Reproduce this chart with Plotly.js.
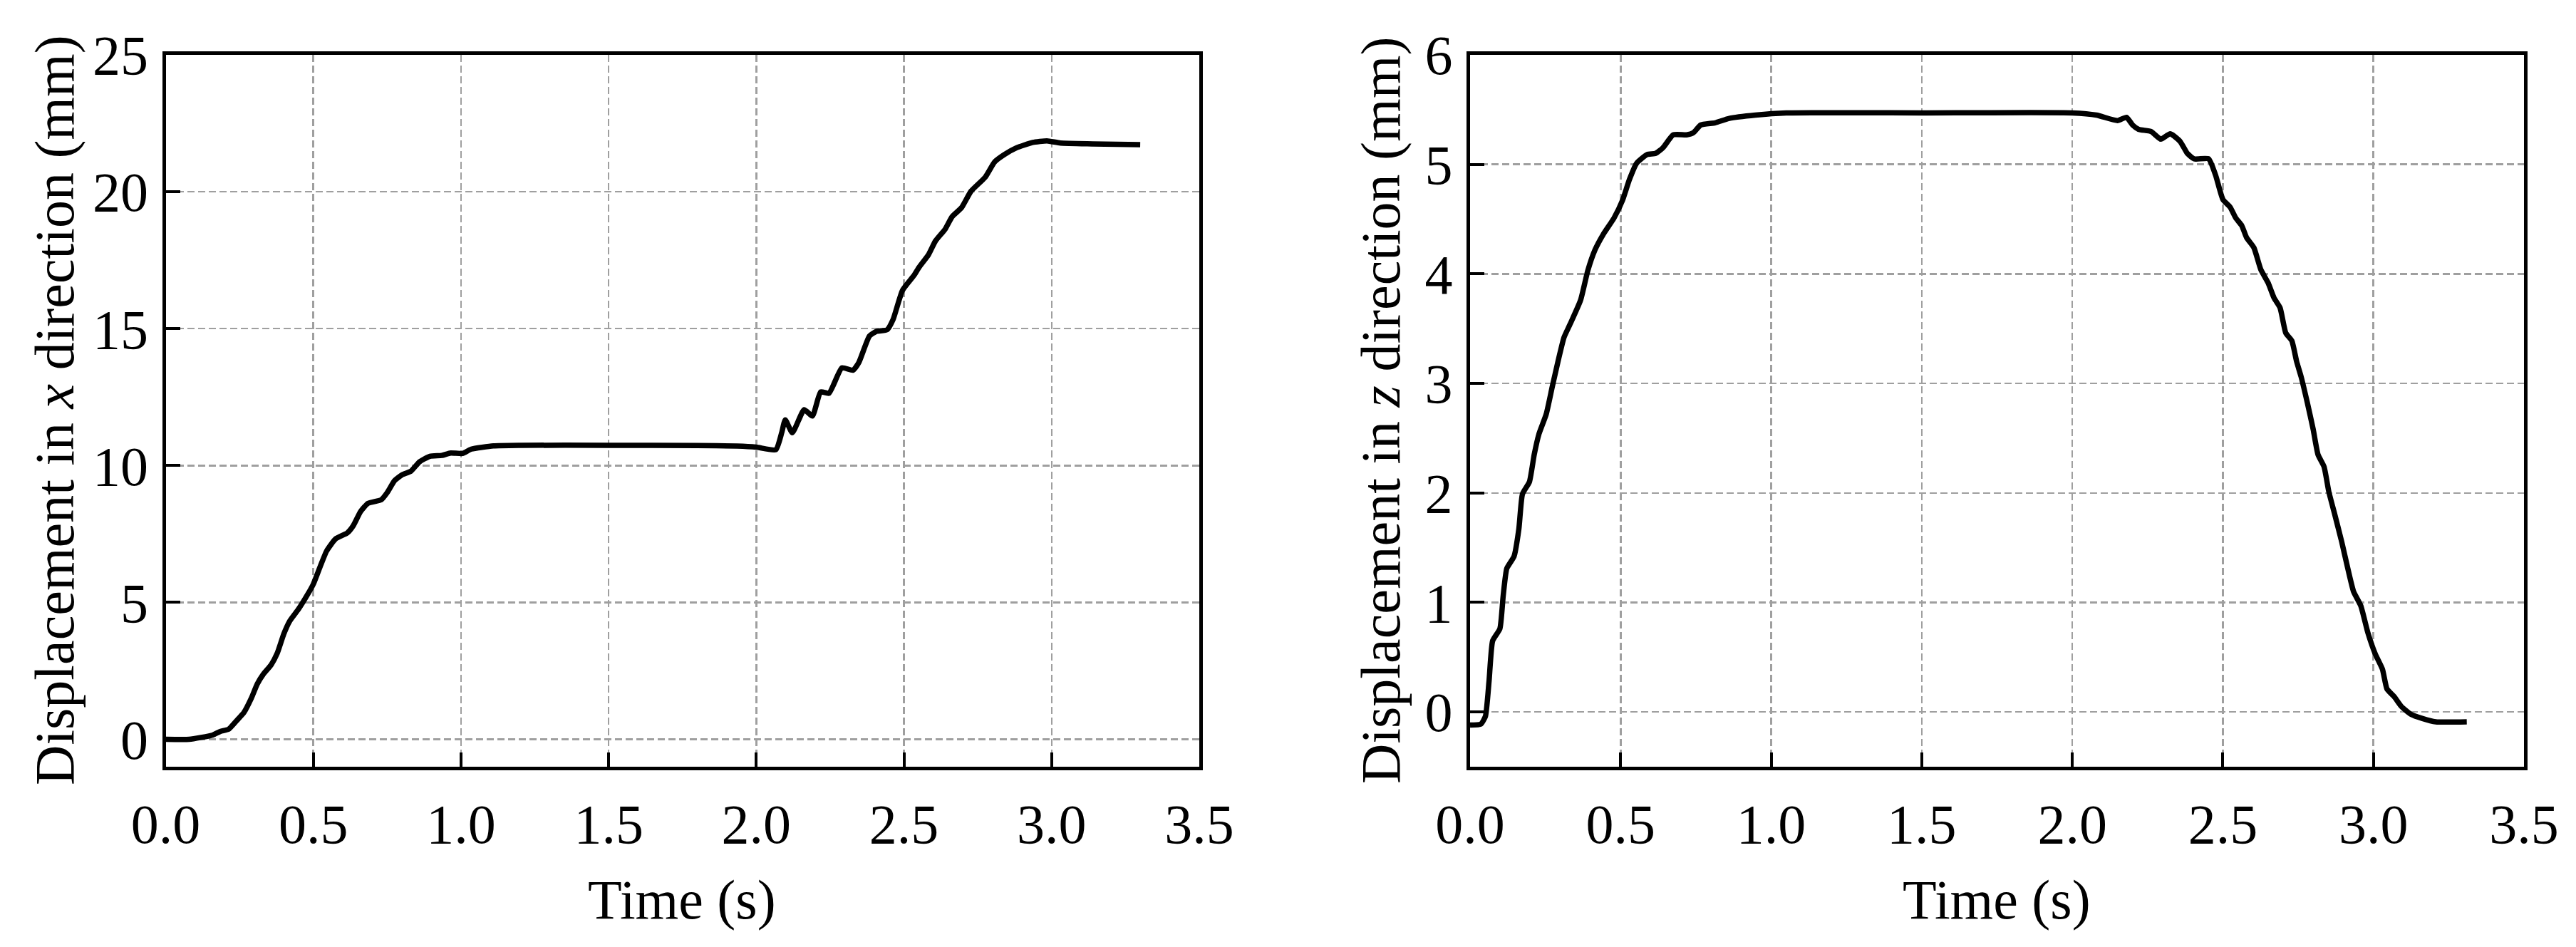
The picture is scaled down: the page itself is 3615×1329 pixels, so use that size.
<!DOCTYPE html>
<html>
<head>
<meta charset="utf-8">
<script src="https://cdn.plot.ly/plotly-3.0.1.min.js"></script>
<style>html,body{margin:0;padding:0;background:#fff;}#chart{width:3615px;height:1329px;}</style>
</head>
<body>
<div id="chart"></div>
<script>
// Left panel: displacement in x direction
const timeX = [0,0.08,0.12,0.16,0.185,0.213,0.24,0.265,0.29,0.31,0.33,0.357,0.378,0.40,0.42,0.45,0.48,0.50,0.525,0.545,0.575,0.615,0.635,0.66,0.685,0.73,0.75,0.775,0.80,0.83,0.86,0.895,0.935,0.965,1.005,1.035,1.11,1.2,1.5,1.8,1.935,2.0,2.066,2.086,2.098,2.122,2.162,2.19,2.218,2.246,2.29,2.327,2.347,2.383,2.407,2.443,2.463,2.495,2.535,2.551,2.583,2.607,2.639,2.663,2.695,2.727,2.775,2.807,2.84,2.88,2.936,2.984,3.03,3.14,3.30];
const dispX = [0,0.0,0.07,0.16,0.29,0.37,0.68,0.98,1.5,2.02,2.37,2.72,3.15,3.85,4.32,4.76,5.28,5.67,6.36,6.88,7.32,7.54,7.8,8.32,8.62,8.75,9.01,9.45,9.66,9.79,10.14,10.34,10.37,10.46,10.44,10.6,10.72,10.74,10.74,10.73,10.71,10.67,10.58,11.2,11.67,11.2,12.04,11.81,12.69,12.64,13.57,13.48,13.76,14.73,14.9,14.96,15.33,16.4,16.96,17.24,17.7,18.21,18.63,19.09,19.42,20.02,20.53,21.09,21.36,21.6,21.8,21.86,21.78,21.75,21.72];

// Right panel: displacement in z direction
const timeZ = [0,0.036,0.051,0.063,0.075,0.099,0.11,0.122,0.146,0.162,0.174,0.197,0.213,0.229,0.253,0.273,0.292,0.312,0.332,0.367,0.391,0.415,0.442,0.478,0.506,0.529,0.553,0.588,0.616,0.64,0.675,0.719,0.742,0.766,0.814,0.861,0.948,1.05,1.5,2.0,2.08,2.15,2.18,2.2,2.22,2.262,2.294,2.325,2.358,2.382,2.405,2.453,2.476,2.5,2.524,2.543,2.563,2.579,2.603,2.626,2.65,2.67,2.69,2.709,2.729,2.745,2.76,2.78,2.8,2.816,2.836,2.852,2.871,2.895,2.915,2.934,2.958,2.982,3.006,3.03,3.045,3.069,3.093,3.124,3.163,3.207,3.31];
const dispZ = [-0.12,-0.11,-0.04,0.28,0.65,0.76,1.06,1.31,1.42,1.67,1.99,2.1,2.35,2.54,2.72,2.97,3.2,3.42,3.54,3.76,4.03,4.22,4.36,4.51,4.67,4.86,5.01,5.09,5.1,5.15,5.27,5.27,5.29,5.36,5.38,5.42,5.45,5.47,5.47,5.47,5.45,5.40,5.43,5.36,5.32,5.30,5.23,5.28,5.21,5.10,5.05,5.05,4.9,4.68,4.61,4.51,4.44,4.33,4.24,4.04,3.92,3.78,3.69,3.46,3.39,3.20,3.06,2.83,2.58,2.35,2.24,2.01,1.81,1.55,1.31,1.10,0.97,0.72,0.53,0.39,0.21,0.14,0.05,-0.02,-0.06,-0.09,-0.09];

const xTickVals = [0,0.5,1.0,1.5,2.0,2.5,3.0,3.5];
const yTickValsX = [0,5,10,15,20,25];
const yTickValsZ = [0,1,2,3,4,5,6];

const FONT = 'Liberation Serif, Times New Roman, serif';
const W = 3615, H = 1329;

function xAxis(domain, anchor) {
  return {
    domain: domain, anchor: anchor, range: [0, 3.5],
    tickvals: xTickVals, tickformat: '.1f',
    ticks: 'inside', ticklen: 20, tickwidth: 4, tickcolor: '#000',
    showline: true, linewidth: 5, linecolor: '#000', mirror: true,
    showgrid: true, gridcolor: '#9f9f9f', gridwidth: 2.5, griddash: '10px,5px',
    zeroline: false, ticklabelstandoff: 8,
    tickfont: {family: FONT, size: 78, color: '#000'}
  };
}
function yAxis(domain, anchor, range, vals) {
  return {
    domain: domain, anchor: anchor, range: range,
    tickvals: vals,
    ticks: 'inside', ticklen: 20, tickwidth: 4, tickcolor: '#000',
    showline: true, linewidth: 5, linecolor: '#000', mirror: true,
    showgrid: true, gridcolor: '#9f9f9f', gridwidth: 2.5, griddash: '10px,5px',
    zeroline: false, ticklabelstandoff: 4,
    tickfont: {family: FONT, size: 78, color: '#000'}
  };
}

const yDom = [(H - 1076) / H, (H - 77) / H];
const lineStyle = {color: '#000', width: 7.5, shape: 'spline', smoothing: 0.5};
const data = [
  {x: timeX, y: dispX, xaxis: 'x', yaxis: 'y', mode: 'lines', line: lineStyle, showlegend: false},
  {x: timeZ, y: dispZ, xaxis: 'x2', yaxis: 'y2', mode: 'lines', line: lineStyle, showlegend: false}
];

const titleFont = {family: FONT, size: 78, color: '#000'};
const layout = {
  width: W, height: H,
  margin: {l: 0, r: 0, t: 0, b: 0},
  paper_bgcolor: '#fff', plot_bgcolor: '#fff',
  xaxis: xAxis([232.5 / W, 1683 / W], 'y'),
  yaxis: yAxis(yDom, 'x', [-1, 25], yTickValsX),
  xaxis2: xAxis([2063 / W, 3542 / W], 'y2'),
  yaxis2: yAxis(yDom, 'x2', [-0.5, 6], yTickValsZ),
  annotations: [
    {text: 'Time (s)', xref: 'paper', yref: 'paper', x: 957 / W, y: (H - 1262) / H, xanchor: 'center', yanchor: 'middle', showarrow: false, font: titleFont},
    {text: 'Time (s)', xref: 'paper', yref: 'paper', x: 2802 / W, y: (H - 1262) / H, xanchor: 'center', yanchor: 'middle', showarrow: false, font: titleFont},
    {text: 'Displacement in <i>x</i> direction (mm)', xref: 'paper', yref: 'paper', x: 76 / W, y: (H - 576) / H, xanchor: 'center', yanchor: 'middle', textangle: -90, showarrow: false, font: titleFont},
    {text: 'Displacement in <i>z</i> direction (mm)', xref: 'paper', yref: 'paper', x: 1937 / W, y: (H - 576) / H, xanchor: 'center', yanchor: 'middle', textangle: -90, showarrow: false, font: titleFont}
  ]
};

Plotly.newPlot('chart', data, layout, {displayModeBar: false, staticPlot: true});
</script>
</body>
</html>
